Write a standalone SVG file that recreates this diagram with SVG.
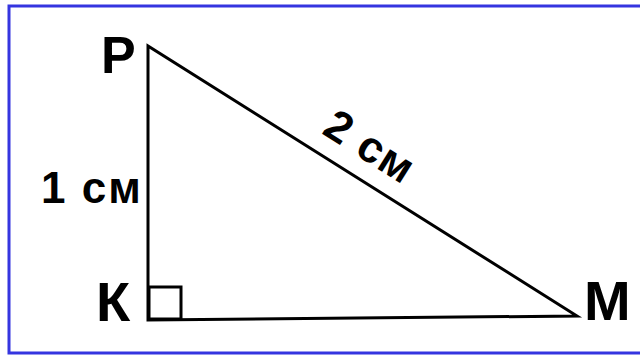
<svg xmlns="http://www.w3.org/2000/svg" width="640" height="355" viewBox="0 0 640 355">
<style>
.lbl{font-family:"Liberation Sans",Arial,sans-serif;font-weight:bold;fill:#000}
.ln{stroke:#000;stroke-width:3;fill:none;stroke-linejoin:miter}
</style>
<rect x="0" y="0" width="640" height="355" fill="#fff"/>
<path d="M645,6 H9 V353 H645" fill="none" stroke="#3535e0" stroke-width="3"/>
<g id="connectors">
<polygon class="ln" points="148,46 148,320 577,316"/>
<rect class="ln" x="149" y="287" width="32" height="32" stroke-width="2.5"/>
</g>
<g id="P"><text class="lbl" x="101" y="73" font-size="52">P</text></g>
<g id="K"><text class="lbl" x="96" y="321" font-size="56">К</text></g>
<g id="M"><text class="lbl" x="584" y="320" font-size="56">M</text></g>
<g id="side1"><text class="lbl" x="41" y="203" font-size="44" letter-spacing="2">1 см</text></g>
<g id="hyp"><text class="lbl" x="362" y="159" font-size="44" text-anchor="middle" letter-spacing="1" transform="rotate(32.3 362 159)">2 см</text></g>
</svg>
